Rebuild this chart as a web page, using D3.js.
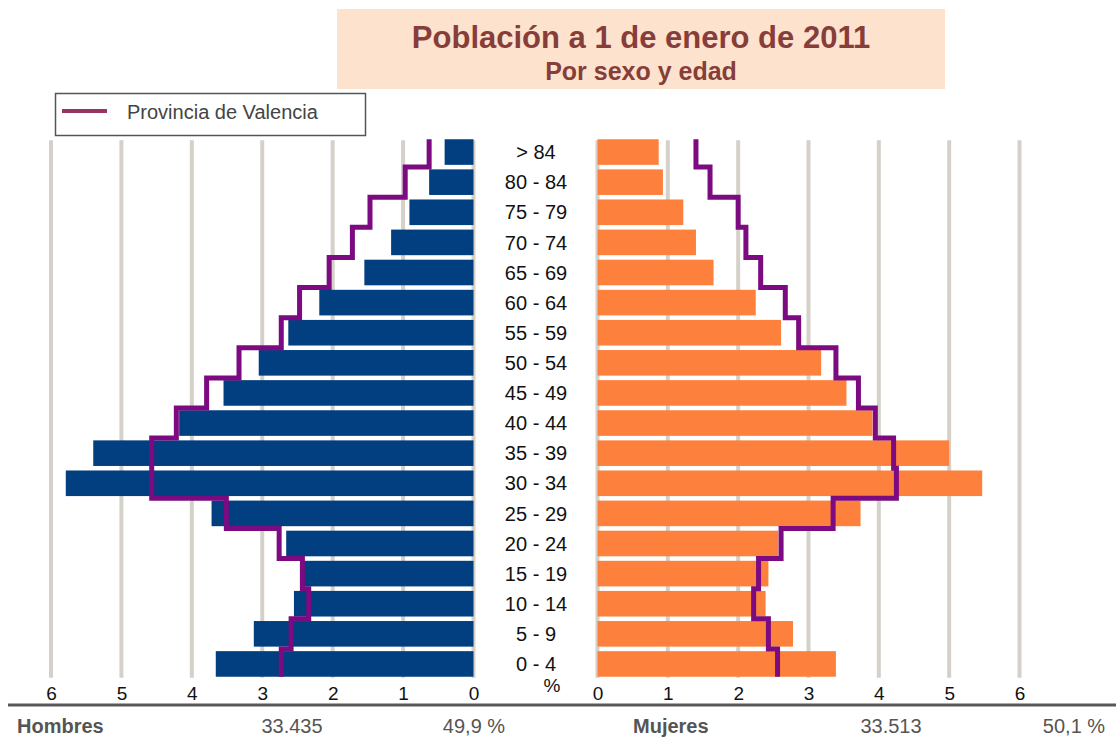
<!DOCTYPE html>
<html>
<head>
<meta charset="utf-8">
<script src="https://cdn.jsdelivr.net/npm/d3@7"></script>
<style>
  body { margin: 0; background: #fff; }
  svg { font-family: "Liberation Sans", Arial, sans-serif; }
</style>
</head>
<body>
<div id="chart"></div>
<script>
// age groups, top to bottom
var ageGroups = ['> 84', '80 - 84', '75 - 79', '70 - 74', '65 - 69', '60 - 64', '55 - 59', '50 - 54', '45 - 49',
                 '40 - 44', '35 - 39', '30 - 34', '25 - 29', '20 - 24', '15 - 19', '10 - 14', '5 - 9', '0 - 4'];
// % of population (municipio)
var hombres = [0.41, 0.63, 0.91, 1.17, 1.55, 2.19, 2.63, 3.05, 3.55, 4.18, 5.40, 5.79, 3.72, 2.66, 2.42, 2.55, 3.12, 3.66];
var mujeres = [0.87, 0.93, 1.22, 1.40, 1.65, 2.25, 2.61, 3.18, 3.54, 3.91, 5.00, 5.47, 3.74, 2.57, 2.43, 2.39, 2.78, 3.39];
// Provincia de Valencia
var valenciaHombres = [0.63, 0.97, 1.47, 1.72, 2.05, 2.47, 2.73, 3.33, 3.79, 4.22, 4.57, 4.57, 3.51, 2.76, 2.43, 2.34, 2.59, 2.73];
var valenciaMujeres = [1.40, 1.60, 2.00, 2.11, 2.32, 2.67, 2.86, 3.39, 3.71, 3.95, 4.21, 4.25, 3.35, 2.61, 2.29, 2.22, 2.43, 2.56];
var tickValues = [0, 1, 2, 3, 4, 5, 6];
var totals = {hombres: '33.435', hombresPct: '49,9 %', mujeres: '33.513', mujeresPct: '50,1 %'};

var width = 1116, height = 742;
var svg = d3.select('#chart').append('svg')
            .attr('width', width)
            .attr('height', height);

var xLeft = d3.scaleLinear().domain([0, 6]).range([473.5, 51]);
var xRight = d3.scaleLinear().domain([0, 6]).range([597.5, 1019.5]);
var y = d3.scaleBand().domain(ageGroups).range([137, 679]).paddingInner(0.15).paddingOuter(0.075);
var gap = y.step() - y.bandwidth();

// title box
svg.append('rect')
   .attr('x', 337).attr('y', 9).attr('width', 608).attr('height', 80)
   .style('fill', '#fde3cd');
svg.append('text')
   .attr('x', 641).attr('y', 48)
   .attr('text-anchor', 'middle')
   .style('font-size', '31px').style('font-weight', 'bold').style('fill', '#873d3a')
   .text('Población a 1 de enero de 2011');
svg.append('text')
   .attr('x', 641).attr('y', 80)
   .attr('text-anchor', 'middle')
   .style('font-size', '25px').style('font-weight', 'bold').style('fill', '#873d3a')
   .text('Por sexo y edad');

// legend
svg.append('rect')
   .attr('x', 55.5).attr('y', 93.5).attr('width', 310).attr('height', 42)
   .style('fill', '#fff').style('stroke', '#555').style('stroke-width', 1.5);
svg.append('line')
   .attr('x1', 62).attr('x2', 107).attr('y1', 111).attr('y2', 111)
   .style('stroke', '#963464').style('stroke-width', 4);
svg.append('text')
   .attr('x', 127).attr('y', 119)
   .style('font-size', '20px').style('fill', '#444')
   .text('Provincia de Valencia');

// grid lines
var gridTop = y(ageGroups[0]) + 1, gridBottom = y(ageGroups[ageGroups.length - 1]) + y.bandwidth() + 1;
[xLeft, xRight].forEach(function(sc) {
    svg.append('g').selectAll('line')
       .data(tickValues)
       .join('line')
       .attr('x1', d => sc(d)).attr('x2', d => sc(d))
       .attr('y1', gridTop).attr('y2', gridBottom)
       .style('stroke', '#d5d1c9').style('stroke-width', 4);
});

// bars
svg.append('g').selectAll('rect')
   .data(hombres)
   .join('rect')
   .attr('x', d => xLeft(d))
   .attr('y', (d, i) => y(ageGroups[i]))
   .attr('width', d => xLeft(0) - xLeft(d))
   .attr('height', y.bandwidth())
   .style('fill', '#013f80');
svg.append('g').selectAll('rect')
   .data(mujeres)
   .join('rect')
   .attr('x', xRight(0))
   .attr('y', (d, i) => y(ageGroups[i]))
   .attr('width', d => xRight(d) - xRight(0))
   .attr('height', y.bandwidth())
   .style('fill', '#fe803d');

// step lines for the province
var stepPoints = function(values, sc) {
    var pts = [];
    values.forEach(function(v, i) {
        var top = y(ageGroups[i]) - (i == 0 ? 0 : gap / 2);
        var bottom = y(ageGroups[i]) + y.bandwidth() + (i == values.length - 1 ? 0 : gap / 2);
        pts.push([sc(v), top], [sc(v), bottom]);
    });
    return pts;
};
var line = d3.line();
[[valenciaHombres, xLeft], [valenciaMujeres, xRight]].forEach(function(s) {
    svg.append('path')
       .attr('d', line(stepPoints(s[0], s[1])))
       .style('fill', 'none')
       .style('stroke', '#7c0a80')
       .style('stroke-width', 5)
       .style('stroke-linejoin', 'miter');
});

// age labels
svg.append('g').selectAll('text')
   .data(ageGroups)
   .join('text')
   .attr('x', 536)
   .attr('y', d => y(d) + y.bandwidth() / 2)
   .attr('dy', '0.36em')
   .attr('text-anchor', 'middle')
   .style('font-size', '20px').style('fill', '#111')
   .text(d => d);

// axes
[xLeft, xRight].forEach(function(sc) {
    var g = svg.append('g')
               .attr('transform', 'translate(0,' + 686 + ')')
               .call(d3.axisBottom(sc).tickValues(tickValues).tickFormat(d3.format('d')).tickSize(0).tickPadding(0));
    g.select('.domain').remove();
    g.selectAll('text')
     .style('font-size', '19px').style('fill', '#111')
     .style('font-family', '"Liberation Sans", Arial, sans-serif');
});
svg.append('text')
   .attr('x', 552).attr('y', 692)
   .attr('text-anchor', 'middle')
   .style('font-size', '19px').style('fill', '#111')
   .text('%');

svg.append('line')
   .attr('x1', 8).attr('x2', width).attr('y1', 705).attr('y2', 705)
   .style('stroke', '#585858').style('stroke-width', 3);

// totals
var bottomText = function(x, txt, anchor, bold) {
    svg.append('text')
       .attr('x', x).attr('y', 733)
       .attr('text-anchor', anchor)
       .style('font-size', '20px')
       .style('font-weight', bold ? 'bold' : 'normal')
       .style('fill', '#555')
       .text(txt);
};
bottomText(17, 'Hombres', 'start', true);
bottomText(292, totals.hombres, 'middle', false);
bottomText(474, totals.hombresPct, 'middle', false);
bottomText(633, 'Mujeres', 'start', true);
bottomText(891, totals.mujeres, 'middle', false);
bottomText(1074, totals.mujeresPct, 'middle', false);
</script>
</body>
</html>
